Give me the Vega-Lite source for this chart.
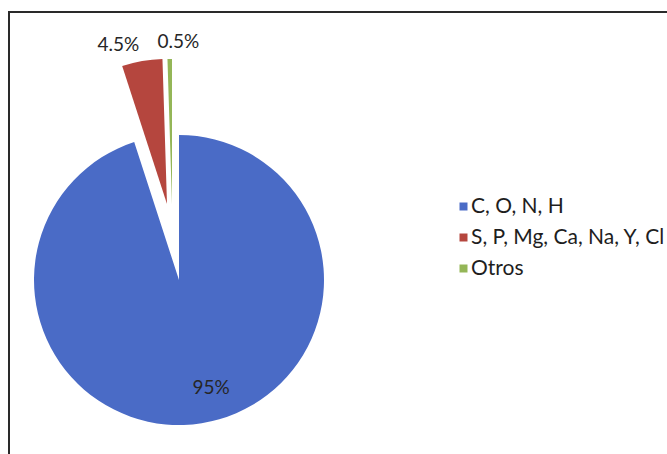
{
  "$schema": "https://vega.github.io/schema/vega-lite/v6.json",
  "width": 660,
  "height": 444,
  "autosize": {"type": "none"},
  "padding": {"left": 9, "top": 12, "right": -2, "bottom": -2},
  "background": "white",
  "view": {"stroke": "#2a2a2a", "strokeWidth": 2},
  "data": {
    "values": [
      {"grupo": "C, O, N, H", "valor": 95, "etiqueta": "95%", "orden": 1},
      {"grupo": "S, P, Mg, Ca, Na, Y, Cl", "valor": 4.5, "etiqueta": "4.5%", "orden": 2},
      {"grupo": "Otros", "valor": 0.5, "etiqueta": "0.5%", "orden": 3}
    ]
  },
  "layer": [
    {
      "mark": {"type": "arc", "x": 170, "y": 268, "radius": 145},
      "encoding": {
        "theta": {"field": "valor", "type": "quantitative", "stack": true},
        "order": {"field": "orden", "type": "quantitative"},
        "color": {
          "field": "grupo", "type": "nominal", "sort": null,
          "scale": {"domain": ["C, O, N, H", "S, P, Mg, Ca, Na, Y, Cl", "Otros"], "range": ["#4a6bc6", "#b5463e", "#94b657"]},
          "legend": {"title": null}
        },
        "opacity": {"condition": {"test": "datum.orden === 1", "value": 1}, "value": 0}
      }
    },
    {
      "mark": {"type": "arc", "x": 158, "y": 192, "radius": 145},
      "encoding": {
        "theta": {"field": "valor", "type": "quantitative", "stack": true},
        "order": {"field": "orden", "type": "quantitative"},
        "color": {"field": "grupo", "type": "nominal", "sort": null},
        "opacity": {"condition": {"test": "datum.orden === 2", "value": 1}, "value": 0}
      }
    },
    {
      "mark": {"type": "arc", "x": 163, "y": 192, "radius": 145},
      "encoding": {
        "theta": {"field": "valor", "type": "quantitative", "stack": true},
        "order": {"field": "orden", "type": "quantitative"},
        "color": {"field": "grupo", "type": "nominal", "sort": null},
        "opacity": {"condition": {"test": "datum.orden === 3", "value": 1}, "value": 0}
      }
    },
    {
      "mark": {"type": "text", "x": 170, "y": 268, "radius": 109, "dx": 15, "font": "Lato", "fontSize": 19, "color": "#262626"},
      "encoding": {
        "theta": {"field": "valor", "type": "quantitative", "stack": true},
        "order": {"field": "orden", "type": "quantitative"},
        "text": {"field": "etiqueta"},
        "opacity": {"condition": {"test": "datum.orden === 1", "value": 1}, "value": 0}
      }
    },
    {
      "mark": {"type": "text", "x": 158, "y": 192, "radius": 161, "dx": -21, "font": "Lato", "fontSize": 19, "color": "#262626"},
      "encoding": {
        "theta": {"field": "valor", "type": "quantitative", "stack": true},
        "order": {"field": "orden", "type": "quantitative"},
        "text": {"field": "etiqueta"},
        "opacity": {"condition": {"test": "datum.orden === 2", "value": 1}, "value": 0}
      }
    },
    {
      "mark": {"type": "text", "x": 163, "y": 192, "radius": 162, "dx": 9, "font": "Lato", "fontSize": 19, "color": "#262626"},
      "encoding": {
        "theta": {"field": "valor", "type": "quantitative", "stack": true},
        "order": {"field": "orden", "type": "quantitative"},
        "text": {"field": "etiqueta"},
        "opacity": {"condition": {"test": "datum.orden === 3", "value": 1}, "value": 0}
      }
    }
  ],
  "config": {
    "legend": {
      "orient": "none",
      "legendX": 444,
      "legendY": 184,
      "symbolType": "square",
      "symbolSize": 64,
      "symbolStrokeWidth": 0,
      "labelFont": "Lato",
      "labelFontSize": 21,
      "labelColor": "#1e1e1e",
      "labelOffset": -3,
      "rowPadding": 9,
      "padding": 0,
      "labelLimit": 300
    }
  }
}
